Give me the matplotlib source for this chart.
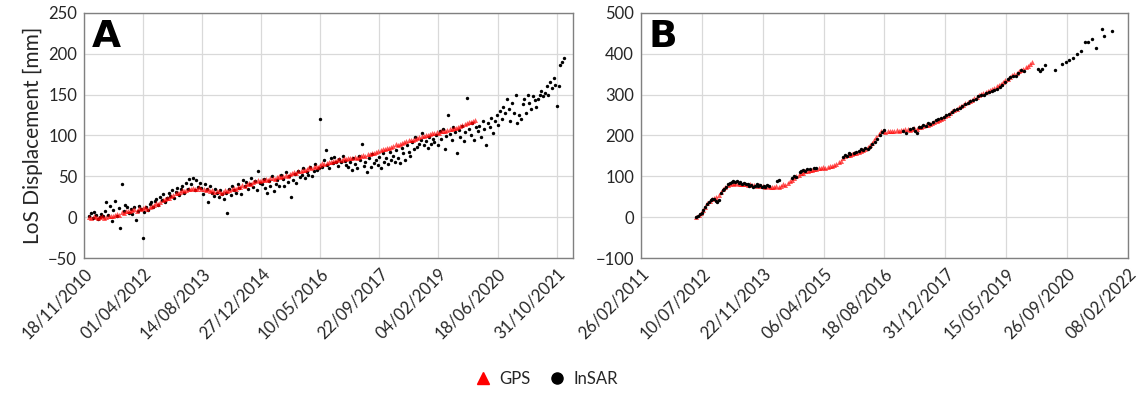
import numpy as np
import pandas as pd
import matplotlib
matplotlib.use('Agg')
import matplotlib.pyplot as plt
import matplotlib.dates as mdates
from matplotlib.lines import Line2D

# GPS series: one reading every 0.05 yr, starting at the given decimal year
GPS_STEP = 0.05
GPS_A_START = 2011.0
gps_a = [
    0, -1, 1, 0, -1, 0, 1, -1, 0, 2, 2, 1, 3, 4, 3, 6, 5, 7, 8, 7,
    9, 10, 8, 11, 10, 11, 12, 10, 13, 14, 15, 17, 16, 19, 21, 22, 24, 23, 26, 27,
    29, 30, 31, 33, 32, 33, 35, 34, 36, 35, 35, 37, 34, 35, 33, 34, 32, 33, 31, 32,
    32, 30, 31, 33, 32, 33, 34, 36, 35, 37, 37, 39, 38, 40, 42, 41, 43, 44, 45, 44,
    46, 45, 47, 46, 48, 48, 47, 49, 50, 49, 50, 52, 51, 53, 54, 55, 54, 56, 57, 58,
    58, 59, 61, 60, 62, 63, 62, 64, 66, 65, 66, 68, 67, 69, 69, 70, 71, 70, 72, 71,
    72, 73, 72, 74, 73, 74, 75, 76, 75, 77, 77, 78, 79, 80, 81, 82, 83, 84, 85, 85,
    86, 87, 89, 88, 90, 91, 92, 93, 94, 95, 95, 96, 97, 98, 99, 99, 100, 101, 102, 103,
    103, 104, 103, 105, 106, 106, 107, 108, 108, 109, 109, 110, 112, 113, 114, 115, 116, 117, 118, 119,
]

GPS_B_START = 2012.40
gps_b = [
    0, 5, 10, 17, 26, 34, 40, 44, 47, 49, 54, 62,
    69, 75, 79, 82, 83, 82, 84, 81, 82, 80, 81, 79, 80, 78, 79, 77, 78, 76, 77, 75,
    76, 74, 75, 73, 76, 75, 77, 80, 79, 84, 88, 91, 96, 100, 104, 107, 109, 112, 113, 115,
    116, 118, 117, 120, 121, 122, 121, 123, 125, 126, 128, 130, 134, 138, 144, 149, 151, 153, 155, 156,
    158, 160, 163, 165, 167, 172, 176, 181, 189, 196, 203, 210, 212, 209, 211, 210, 212, 211, 213, 212,
    214, 213, 215, 216, 214, 217, 218, 217, 220, 221, 223, 225, 226, 228, 231, 233, 235, 238, 241, 244,
    248, 251, 255, 259, 263, 266, 269, 272, 275, 279, 281, 285, 288, 291, 295, 298, 301, 303, 306, 309,
    311, 314, 317, 320, 323, 327, 331, 335, 339, 343, 347, 350, 353, 357, 360, 364, 367, 371, 375, 379,
]

# InSAR A: one acquisition every 0.04 yr from 2011.0
INSAR_A_STEP = 0.04
INSAR_A_START = 2011.0
insar_a = [
    2, 5, -1, 6, 3, -2, 0, 4, 1, 8, 18, 3, 14, -5, 9, 20, 2, 11, -13, 40, 8, 15, 12, 5, 10,
    4, 12, -4, 8, 14, 10, -25, 6, 12, 9, 16, 18, 13, 20, 22, 15, 25, 21, 28, 19, 24, 30, 26, 33, 23,
    31, 36, 27, 34, 38, 30, 42, 35, 47, 40, 48, 33, 45, 37, 42, 36, 28, 40, 34, 18, 38, 30, 26, 35, 29,
    25, 33, 28, 22, 30, 5, 35, 27, 38, 33, 30, 41, 36, 28, 45, 38, 43, 35, 40, 48, 37, 44, 33, 57, 42,
    41, 47, 36, 30, 44, 38, 50, 32, 40, 45, 38, 52, 47, 38, 55, 43, 50, 25, 46, 53, 42, 57, 49, 52, 60,
    48, 55, 52, 62, 50, 56, 65, 58, 60, 120, 62, 70, 82, 64, 60, 72, 66, 74, 68, 63, 71, 67, 75, 69, 64,
    62, 68, 58, 72, 65, 60, 75, 70, 90, 63, 67, 55, 72, 61, 77, 66, 70, 64, 74, 60, 78, 68, 73, 65, 80,
    70, 75, 68, 82, 72, 66, 85, 78, 70, 88, 80, 75, 92, 84, 98, 86, 90, 95, 103, 88, 93, 85, 98, 90, 96,
    92, 100, 88, 105, 96, 108, 84, 99, 125, 102, 94, 110, 104, 78, 107, 98, 112, 93, 104, 146, 108, 101, 115, 95, 110,
    105, 112, 98, 118, 108, 88, 115, 110, 122, 103, 118, 125, 113, 130, 120, 135, 128, 145, 132, 118, 140, 128, 150, 115, 125,
    120, 138, 145, 128, 150, 140, 132, 148, 143, 135, 145, 150, 155, 148, 152, 160, 150, 165, 158, 170, 162, 136, 160, 186, 190,
    195,
]

# InSAR B: irregular acquisitions (decimal year, mm)
insar_b_year = [
    2012.40, 2012.44, 2012.48, 2012.52, 2012.56, 2012.60, 2012.64, 2012.68, 2012.72, 2012.76,
    2012.80, 2012.84, 2012.87, 2012.91, 2012.95, 2012.99, 2013.03, 2013.07, 2013.11, 2013.15,
    2013.19, 2013.23, 2013.27, 2013.31, 2013.35, 2013.39, 2013.43, 2013.47, 2013.51, 2013.55,
    2013.59, 2013.63, 2013.67, 2013.71, 2013.75, 2013.79, 2013.83, 2013.87, 2013.91, 2013.95,
    2013.99, 2014.03, 2014.22, 2014.26, 2014.55, 2014.59, 2014.63, 2014.72, 2014.76, 2014.80,
    2014.84, 2014.88, 2014.95, 2015.05, 2015.10, 2015.70, 2015.74, 2015.78, 2015.82, 2015.86,
    2015.95, 2016.00, 2016.05, 2016.10, 2016.15, 2016.20, 2016.25, 2016.30, 2016.36, 2016.42,
    2016.47, 2016.52, 2016.57, 2016.62, 2017.05, 2017.12, 2017.20, 2017.27, 2017.32, 2017.36,
    2017.40, 2017.45, 2017.50, 2017.55, 2017.60, 2017.66, 2017.72, 2017.78, 2017.84, 2017.90,
    2017.96, 2018.02, 2018.08, 2018.14, 2018.20, 2018.26, 2018.32, 2018.38, 2018.44, 2018.50,
    2018.56, 2018.62, 2018.68, 2018.74, 2018.80, 2018.86, 2018.92, 2018.98, 2019.04, 2019.10,
    2019.16, 2019.22, 2019.28, 2019.34, 2019.40, 2019.46, 2019.52, 2019.58, 2019.64, 2019.70,
    2019.76, 2020.08, 2020.13, 2020.18, 2020.25, 2020.46, 2020.62, 2020.70, 2020.78, 2020.86,
    2020.96, 2021.04, 2021.13, 2021.20, 2021.29, 2021.39, 2021.51, 2021.57, 2021.74,
]
insar_b = [
    0, 4, 8, 11, 18, 24, 32, 38, 43, 44,
    45, 40, 36, 42, 58, 66, 70, 75, 80, 84,
    86, 88, 85, 88, 83, 86, 82, 84, 80, 82,
    77, 79, 75, 76, 80, 76, 78, 74, 77, 75,
    78, 76, 88, 92, 96, 100, 98, 110, 114, 116,
    113, 117, 118, 120, 121, 148, 152, 150, 156, 155,
    158, 160, 162, 166, 165, 170, 168, 172, 178, 185,
    192, 200, 208, 214, 212, 205, 215, 218, 210, 206,
    220, 222, 226, 224, 230, 228, 233, 238, 240, 242,
    246, 250, 252, 258, 262, 266, 268, 272, 276, 280,
    284, 286, 290, 296, 300, 298, 304, 306, 310, 312,
    315, 318, 324, 330, 338, 342, 346, 345, 352, 360,
    358, 362, 358, 362, 372, 360, 376, 381, 385, 390,
    400, 408, 430, 430, 436, 415, 460, 444, 457,
]

A_TICK_START = '2010-11-18'
B_TICK_START = '2011-02-26'
TICK_DAYS = 500


def year_to_num(years):
    years = np.asarray(years, dtype=float)
    base = np.array([mdates.date2num(pd.Timestamp(int(y), 1, 1)) for y in years])
    return base + (years - years.astype(int)) * 365.25


def regular_years(start, step, n):
    return start + step * np.arange(n)


plt.rcParams['font.family'] = ['Lato', 'DejaVu Sans']
text_col = '#262626'

fig = plt.figure(figsize=(11.46, 3.93), dpi=100)
ax_a = fig.add_axes([0.0733, 0.3435, 0.4267, 0.6235])
ax_b = fig.add_axes([0.5593, 0.3435, 0.4250, 0.6235])

gps_kw = dict(marker='^', s=13, color='#ff0000', alpha=0.65, linewidths=0)
insar_kw = dict(marker='o', s=6, color='black', linewidths=0, zorder=4)

# panel A: GPS drawn over the InSAR cloud
xa_gps = year_to_num(regular_years(GPS_A_START, GPS_STEP, len(gps_a)))
xa_ins = year_to_num(regular_years(INSAR_A_START, INSAR_A_STEP, len(insar_a)))
ax_a.scatter(xa_ins, insar_a, **insar_kw)
ax_a.scatter(xa_gps, gps_a, zorder=5, **gps_kw)

# panel B: InSAR dots sit on top of the GPS band
xb_gps = year_to_num(regular_years(GPS_B_START, GPS_STEP, len(gps_b)))
ax_b.scatter(year_to_num(insar_b_year), insar_b, **insar_kw)
ax_b.scatter(xb_gps, gps_b, zorder=3, **gps_kw)

ticks_a = pd.date_range(A_TICK_START, periods=9, freq=f'{TICK_DAYS}D')
ticks_b = pd.date_range(B_TICK_START, periods=9, freq=f'{TICK_DAYS}D')

for ax, ticks, ylim, ystep, letter in [
    (ax_a, ticks_a, (-50, 250), 50, 'A'),
    (ax_b, ticks_b, (-100, 500), 100, 'B'),
]:
    tnum = mdates.date2num(ticks)
    ax.set_xticks(tnum)
    ax.set_xticklabels([t.strftime('%d/%m/%Y') for t in ticks], rotation=45,
                       ha='right', rotation_mode='anchor', fontsize=12, color=text_col)
    ax.set_ylim(*ylim)
    ax.set_yticks(np.arange(ylim[0], ylim[1] + 1, ystep))
    ax.tick_params(axis='y', labelsize=12, labelcolor=text_col)
    ax.tick_params(length=0, pad=5)
    ax.grid(True, color='#d9d9d9', linewidth=0.9)
    ax.set_axisbelow(True)
    for sp in ax.spines.values():
        sp.set_color('#808080')
        sp.set_linewidth(1.0)
    ax.text(0.015, 0.975, letter, transform=ax.transAxes, ha='left', va='top',
            fontsize=27, fontweight='black', family='DejaVu Sans', zorder=6)

ax_a.set_xlim(mdates.date2num(ticks_a[0]), mdates.date2num(ticks_a[-1]) + 139)
ax_b.set_xlim(mdates.date2num(ticks_b[0]), mdates.date2num(ticks_b[-1]))
ax_a.set_ylabel('LoS Displacement [mm]', fontsize=15, color=text_col, labelpad=4)

handles = [
    Line2D([], [], marker='^', linestyle='none', color='#ff0000', markersize=8, label='GPS'),
    Line2D([], [], marker='o', linestyle='none', color='black', markersize=8, label='InSAR'),
]
fig.legend(handles=handles, loc='center', bbox_to_anchor=(0.473, 0.035), ncol=2,
           frameon=False, fontsize=12, handletextpad=0.0, columnspacing=0.6,
           labelcolor=text_col)

fig.savefig('out.png', dpi=100)
